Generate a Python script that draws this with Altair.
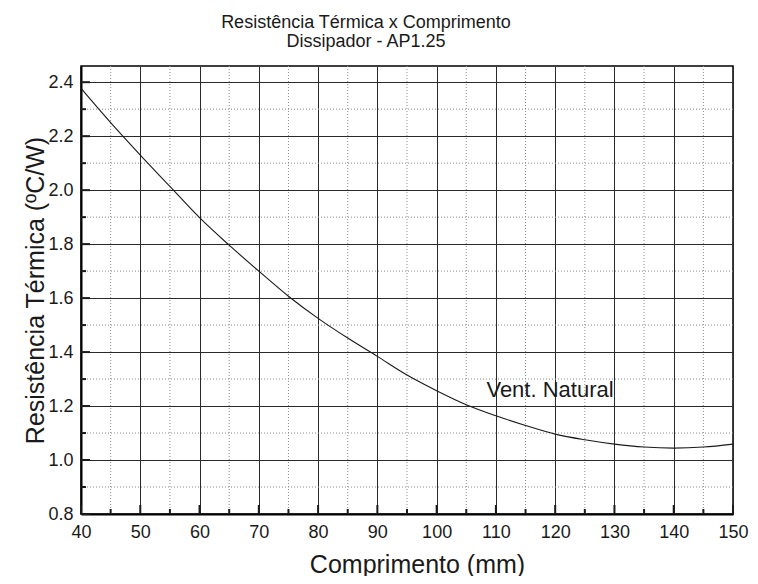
import altair as alt
import pandas as pd

# ---- data ----
comprimento = [40, 45, 50, 55, 60, 65, 70, 75, 80, 85, 90, 95, 100,
               105, 110, 115, 120, 125, 130, 135, 140, 145, 150]
resistencia = [2.377, 2.250, 2.130, 2.014, 1.898, 1.796, 1.700, 1.607, 1.525,
               1.452, 1.384, 1.315, 1.257, 1.205, 1.164, 1.128, 1.096, 1.075,
               1.059, 1.048, 1.044, 1.048, 1.059]

x_major = [40, 50, 60, 70, 80, 90, 100, 110, 120, 130, 140, 150]
x_minor = [45, 55, 65, 75, 85, 95, 105, 115, 125, 135, 145]
y_major = [0.8, 1.0, 1.2, 1.4, 1.6, 1.8, 2.0, 2.2, 2.4]
y_minor = [0.9, 1.1, 1.3, 1.5, 1.7, 1.9, 2.1, 2.3]

title_lines = ["Resistência Térmica x Comprimento", "Dissipador - AP1.25"]
x_title = "Comprimento (mm)"
y_title = "Resistência Térmica (ºC/W)"

label_text = ["Vent. Natural"]
label_x = [108.4]
label_y = [1.233]

# ---- layout ----
W, H = 652, 448
FONT = "Liberation Sans"
INK = "#1a1a1a"

xs = alt.Scale(domain=[40, 150], nice=False, zero=False)
ys = alt.Scale(domain=[0.8, 2.46], nice=False, zero=False)

x_axis = alt.Axis(values=x_major, title=x_title, grid=True, ticks=False,
                  labelPadding=9, titlePadding=11, format="d",
                  labelFlush=False, labelOverlap=False, labelBound=False,
                  titleX=336)
y_axis = alt.Axis(values=y_major, title=y_title, grid=True, ticks=False,
                  labelPadding=8, titlePadding=-1, format=".1f",
                  labelFlush=False, labelOverlap=False, labelBound=False)

curve_df = pd.DataFrame({"c": comprimento, "r": resistencia})
xmaj_df = pd.DataFrame({"c": x_major})
xmin_df = pd.DataFrame({"c": x_minor})
ymaj_df = pd.DataFrame({"r": y_major})
ymin_df = pd.DataFrame({"r": y_minor})
label_df = pd.DataFrame({"c": label_x, "r": label_y, "t": label_text})

X = lambda: alt.X("c:Q", scale=xs, axis=x_axis)
Y = lambda: alt.Y("r:Q", scale=ys, axis=y_axis)

minor_vx = alt.Chart(xmin_df).mark_rule(
    color="#8c8c8c", strokeDash=[1, 2], strokeWidth=1).encode(x=X())
minor_hy = alt.Chart(ymin_df).mark_rule(
    color="#8c8c8c", strokeDash=[1, 2], strokeWidth=1).encode(y=Y())

tick_x_major = alt.Chart(xmaj_df).mark_rule(color=INK, strokeWidth=2).encode(
    x=X(), y=alt.value(H), y2=alt.value(H - 9))
tick_x_minor = alt.Chart(xmin_df).mark_rule(color=INK, strokeWidth=2).encode(
    x=X(), y=alt.value(H), y2=alt.value(H - 5))
tick_y_major = alt.Chart(ymaj_df).mark_rule(color=INK, strokeWidth=2).encode(
    y=Y(), x=alt.value(0), x2=alt.value(9))
tick_y_minor = alt.Chart(ymin_df).mark_rule(color=INK, strokeWidth=2).encode(
    y=Y(), x=alt.value(0), x2=alt.value(5))

curve = alt.Chart(curve_df).mark_line(
    color=INK, strokeWidth=1.1, interpolate="monotone").encode(x=X(), y=Y())

label = alt.Chart(label_df).mark_text(
    align="left", baseline="alphabetic", fontSize=22, font=FONT, color=INK
).encode(x=X(), y=Y(), text="t:N")

chart = alt.layer(
    minor_vx, minor_hy, curve, tick_x_major, tick_x_minor,
    tick_y_major, tick_y_minor, label
).properties(
    width=W, height=H,
    autosize=alt.AutoSizeParams(type="none"),
    padding={"left": 73, "top": 58, "right": 17, "bottom": 62},
    title=alt.TitleParams(text=title_lines, fontSize=18, font=FONT,
                          fontWeight="normal", anchor="middle", dx=-41,
                          offset=15, lineHeight=18.5, color=INK),
).configure_view(
    stroke="black", strokeWidth=1.5
).configure_axis(
    gridColor="#2a2a2a", gridWidth=1, gridOpacity=1,
    domainColor="black", domainWidth=2,
    labelFont=FONT, labelFontSize=18, labelColor=INK,
    titleFont=FONT, titleFontSize=25, titleFontWeight="normal", titleColor=INK,
)

chart.save("out.html", embed_options={"renderer": "svg", "actions": False})
